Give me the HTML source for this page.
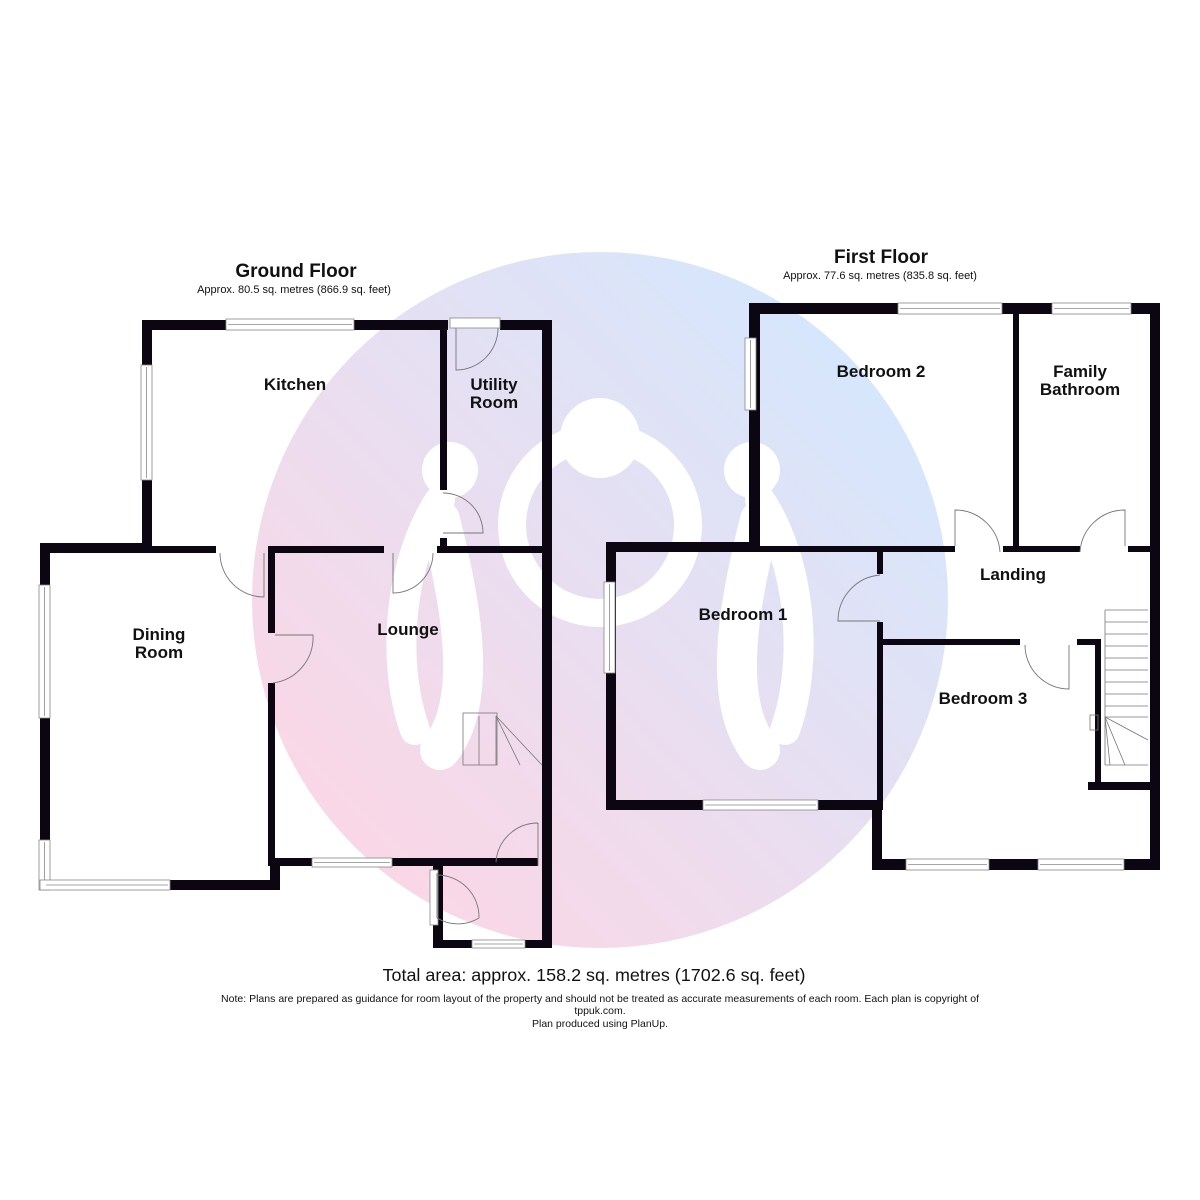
<!DOCTYPE html>
<html><head><meta charset="utf-8"><style>
html,body{margin:0;padding:0;background:#fff;}
svg{display:block;}
text{font-family:"Liberation Sans",Arial,sans-serif;}
.r{font-weight:bold;font-size:17px;fill:#111;text-anchor:middle;}
</style></head><body>
<svg width="1200" height="1200" viewBox="0 0 1200 1200" xmlns="http://www.w3.org/2000/svg">
<defs>
<linearGradient id="g" x1="0.15" y1="0.85" x2="0.85" y2="0.15">
<stop offset="0" stop-color="#fad7e6"/><stop offset="1" stop-color="#d6e6fc"/>
</linearGradient>
</defs>
<circle cx="600" cy="600" r="348" fill="url(#g)"/>
<!-- logo -->
<g fill="none" stroke="#fff" stroke-linecap="round">
<circle cx="600" cy="525" r="88" stroke-width="28"/>
<path d="M440 520 C 460 600, 480 700, 440 750" stroke-width="40"/>
<path d="M760 520 C 740 600, 720 700, 760 750" stroke-width="40"/>
<path d="M440 500 C 400 560, 390 660, 415 730" stroke-width="30"/>
<path d="M760 500 C 800 560, 810 660, 785 730" stroke-width="30"/>
</g>
<g fill="#fff">
<circle cx="450" cy="470" r="28"/><circle cx="600" cy="438" r="40"/><circle cx="752" cy="470" r="28"/>
</g>

<!-- titles -->
<text x="296" y="277" text-anchor="middle" font-size="19" font-weight="bold" fill="#111">Ground Floor</text>
<text x="294" y="293" text-anchor="middle" font-size="11" fill="#111">Approx. 80.5 sq. metres (866.9 sq. feet)</text>
<text x="881" y="263" text-anchor="middle" font-size="19" font-weight="bold" fill="#111">First Floor</text>
<text x="880" y="279" text-anchor="middle" font-size="11" fill="#111">Approx. 77.6 sq. metres (835.8 sq. feet)</text>

<g fill="#0c0612">
<!-- ground floor -->
<rect x="142" y="320" width="306" height="10"/>
<rect x="142" y="320" width="10" height="233"/>
<rect x="40" y="543" width="112" height="10"/>
<rect x="40" y="543" width="10" height="347"/>
<rect x="170" y="880" width="110" height="10"/>
<rect x="270" y="860" width="10" height="30"/>
<rect x="268" y="553" width="7" height="80"/>
<rect x="268" y="683" width="7" height="183"/>
<rect x="152" y="546" width="64" height="7"/>
<rect x="268" y="546" width="116" height="7"/>
<rect x="437" y="546" width="108" height="7"/>
<rect x="440" y="320" width="7" height="170"/>
<rect x="440" y="538" width="7" height="10"/>
<rect x="500" y="320" width="52" height="10"/>
<rect x="542" y="320" width="10" height="628"/>
<rect x="268" y="858" width="270" height="8"/>
<rect x="433" y="866" width="10" height="82"/>
<rect x="433" y="940" width="119" height="8"/>
<!-- first floor -->
<rect x="749" y="303" width="411" height="11"/>
<rect x="749" y="303" width="11" height="249"/>
<rect x="1150" y="303" width="10" height="567"/>
<rect x="1013" y="310" width="6" height="242"/>
<rect x="606" y="542" width="154" height="10"/>
<rect x="606" y="542" width="10" height="268"/>
<rect x="606" y="800" width="276" height="10"/>
<rect x="760" y="546" width="195" height="6"/>
<rect x="1003" y="546" width="77" height="6"/>
<rect x="1128" y="546" width="27" height="6"/>
<rect x="877" y="552" width="6" height="22"/>
<rect x="877" y="622" width="6" height="188"/>
<rect x="872" y="800" width="10" height="70"/>
<rect x="872" y="859" width="288" height="11"/>
<rect x="882" y="639" width="138" height="6"/>
<rect x="1077" y="639" width="24" height="6"/>
<rect x="1095" y="639" width="6" height="150"/>
<rect x="1088" y="782" width="72" height="8"/>
</g>

<!-- windows -->
<g fill="#fff" stroke="#888" stroke-width="0.8">
<rect x="226" y="319" width="128" height="11"/><line x1="228" y1="324.5" x2="352" y2="324.5"/>
<rect x="141" y="365" width="11" height="115"/><line x1="146.5" y1="367" x2="146.5" y2="478"/>
<rect x="39" y="585" width="11" height="133"/><line x1="44.5" y1="587" x2="44.5" y2="716"/>
<rect x="39" y="840" width="11" height="50"/><line x1="44.5" y1="842" x2="44.5" y2="888"/>
<rect x="40" y="880" width="130" height="10"/><line x1="46" y1="885" x2="168" y2="885"/>
<rect x="312" y="858" width="80" height="9"/><line x1="314" y1="862.5" x2="390" y2="862.5"/>
<rect x="472" y="940" width="53" height="8"/><line x1="474" y1="944" x2="523" y2="944"/>
<rect x="450" y="318" width="50" height="10"/>
<rect x="430" y="870" width="8" height="55"/>
<rect x="898" y="303" width="104" height="11"/><line x1="900" y1="308.5" x2="1000" y2="308.5"/>
<rect x="1052" y="303" width="79" height="11"/><line x1="1054" y1="308.5" x2="1129" y2="308.5"/>
<rect x="745" y="338" width="11" height="72"/><line x1="750.5" y1="340" x2="750.5" y2="408"/>
<rect x="604" y="582" width="11" height="91"/><line x1="609.5" y1="584" x2="609.5" y2="671"/>
<rect x="703" y="800" width="115" height="10"/><line x1="705" y1="805" x2="816" y2="805"/>
<rect x="906" y="859" width="83" height="11"/><line x1="908" y1="864.5" x2="987" y2="864.5"/>
<rect x="1038" y="859" width="86" height="11"/><line x1="1040" y1="864.5" x2="1122" y2="864.5"/>
</g>

<!-- doors -->
<g fill="none" stroke="#777" stroke-width="0.9">
<path d="M456 328 V370 A42 42 0 0 0 498 328"/>
<path d="M443 493 A40 40 0 0 1 483 533 H443"/>
<path d="M433 553 A40 40 0 0 1 393 593 V553"/>
<path d="M220 553 A44 44 0 0 0 264 597 V553"/>
<path d="M275 635 H313 A46 46 0 0 1 273 683"/>
<path d="M538 823 V866 M538 823 A42 42 0 0 0 496 862"/>
<path d="M437 873 V918 A40 40 0 0 0 479 918 M437 875 A42 42 0 0 1 479 918"/>
<path d="M955 546 V510 A45 45 0 0 1 1000 552"/>
<path d="M1125 546 V510 A45 45 0 0 0 1080 552"/>
<path d="M880 575 A46 46 0 0 0 838 621 H880"/>
<path d="M1025 645 A44 44 0 0 0 1069 689 V645"/>
</g>
<!-- stairs -->
<g fill="none" stroke="#777" stroke-width="0.8">
<rect x="463" y="713" width="34" height="52"/>
<line x1="479" y1="716" x2="479" y2="765"/><line x1="496" y1="716" x2="496" y2="765"/>
<line x1="496" y1="716" x2="542" y2="765"/><line x1="496" y1="716" x2="520" y2="765"/>
<line x1="1105" y1="610" x2="1105" y2="765"/>
<path d="M1105 610 H1148 M1105 622 H1148 M1105 634 H1148 M1105 646 H1148 M1105 658 H1148 M1105 670 H1148 M1105 682 H1148 M1105 694 H1148 M1105 706 H1148 M1105 717 H1148 M1105 765 H1148"/>
<path d="M1105 717 L1148 740 M1105 717 L1125 765 M1105 717 L1110 765"/>
<rect x="1090" y="715" width="8" height="15"/>
</g>

<!-- labels -->
<text class="r" x="295" y="390">Kitchen</text>
<text class="r" x="494" y="390">Utility</text><text class="r" x="494" y="408">Room</text>
<text class="r" x="159" y="640">Dining</text><text class="r" x="159" y="658">Room</text>
<text class="r" x="408" y="635">Lounge</text>
<text class="r" x="881" y="377">Bedroom 2</text>
<text class="r" x="1080" y="377">Family</text><text class="r" x="1080" y="395">Bathroom</text>
<text class="r" x="1013" y="580">Landing</text>
<text class="r" x="743" y="620">Bedroom 1</text>
<text class="r" x="983" y="704">Bedroom 3</text>

<text x="594" y="981" text-anchor="middle" font-size="17.5" fill="#111" textLength="423" lengthAdjust="spacingAndGlyphs">Total area: approx. 158.2 sq. metres (1702.6 sq. feet)</text>
<text x="600" y="1002" text-anchor="middle" font-size="10.5" fill="#111" textLength="758" lengthAdjust="spacingAndGlyphs">Note: Plans are prepared as guidance for room layout of the property and should not be treated as accurate measurements of each room. Each plan is copyright of</text>
<text x="600" y="1014" text-anchor="middle" font-size="10.5" fill="#111">tppuk.com.</text>
<text x="600" y="1027" text-anchor="middle" font-size="10.5" fill="#111">Plan produced using PlanUp.</text>
</svg>
</body></html>
